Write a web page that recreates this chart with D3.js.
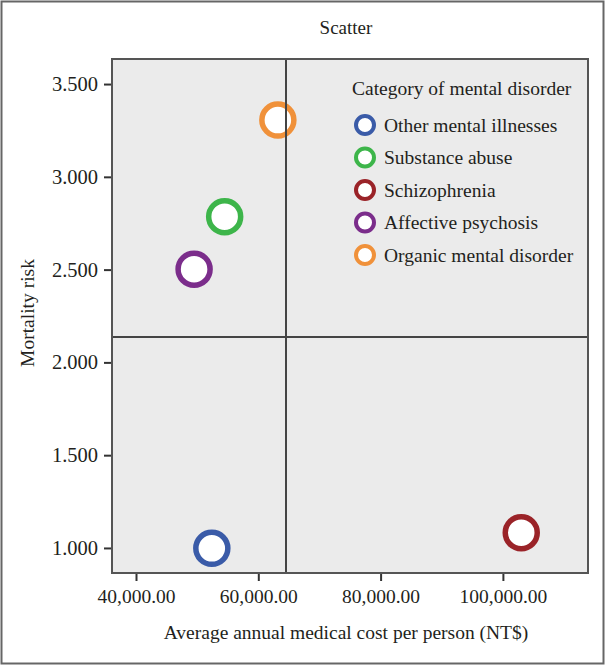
<!DOCTYPE html>
<html>
<head>
<meta charset="utf-8">
<script src="https://cdn.jsdelivr.net/npm/d3@7"></script>
<style>
  html, body { margin: 0; padding: 0; background: #fff; }
  svg { display: block; }
  text { font-family: "Liberation Serif", "DejaVu Serif", serif; fill: #231f20; }
</style>
</head>
<body>
<svg id="chart" width="606" height="666"></svg>
<script>
// ---- data ----
const categories = ["Other mental illnesses", "Substance abuse", "Schizophrenia", "Affective psychosis", "Organic mental disorder"];
const costs = [52400, 54500, 103000, 49500, 63200];
const risks = [0.998, 2.785, 1.082, 2.502, 3.306];
const colors = ["#3a5ba8", "#3db54a", "#9a2328", "#7b2d8b", "#f0913a"];
const xTicks = [40000, 60000, 80000, 100000];
const yTicks = [1.0, 1.5, 2.0, 2.5, 3.0, 3.5];
const xDomain = [36075, 113917];
const yDomain = [0.865, 3.635];
const xRef = 64530;
const yRef = 2.137;
const titleText = "Scatter";
const xLabel = "Average annual medical cost per person (NT$)";
const yLabel = "Mortality risk";
const legendTitle = "Category of mental disorder";

// ---- layout ----
const W = 606, H = 666;
const plot = { left: 112, right: 588, top: 59, bottom: 573 };
const svg = d3.select("#chart");

// outer frame
svg.append("rect").attr("x", 1.5).attr("y", 1.5).attr("width", W - 4).attr("height", H - 4)
  .attr("fill", "#fff").attr("stroke", "#666").attr("stroke-width", 2);

const x = d3.scaleLinear().domain(xDomain).range([plot.left, plot.right]);
const y = d3.scaleLinear().domain(yDomain).range([plot.bottom, plot.top]);

// plot background
svg.append("rect").attr("x", plot.left).attr("y", plot.top)
  .attr("width", plot.right - plot.left).attr("height", plot.bottom - plot.top)
  .attr("fill", "#ebebeb");

// axes
const xAxis = d3.axisBottom(x).tickValues(xTicks).tickFormat(d3.format(",.2f")).tickSize(8).tickPadding(8);
const yAxis = d3.axisLeft(y).tickValues(yTicks).tickFormat(d3.format(".3f")).tickSize(8).tickPadding(6);

const gx = svg.append("g").attr("transform", `translate(0,${plot.bottom})`).call(xAxis);
const gy = svg.append("g").attr("transform", `translate(${plot.left},0)`).call(yAxis);
[gx, gy].forEach(g => {
  g.select(".domain").remove();
  g.selectAll(".tick line").attr("stroke", "#333").attr("stroke-width", 2);
  g.selectAll(".tick text").style("font-family", "Liberation Serif, serif").attr("fill", "#231f20");
});
gx.selectAll(".tick text").style("font-size", "19.5px");
gy.selectAll(".tick text").style("font-size", "20.5px");

// points
const pts = categories.map((c, i) => ({ c, x: costs[i], y: risks[i], col: colors[i] }));
svg.append("g").selectAll("circle").data(pts).join("circle")
  .attr("cx", d => x(d.x)).attr("cy", d => y(d.y)).attr("r", 16)
  .attr("fill", "#fff").attr("stroke", d => d.col).attr("stroke-width", 5.5);

// reference lines
svg.append("line").attr("x1", x(xRef)).attr("x2", x(xRef)).attr("y1", plot.top).attr("y2", plot.bottom)
  .attr("stroke", "#444").attr("stroke-width", 2);
svg.append("line").attr("x1", plot.left).attr("x2", plot.right).attr("y1", y(yRef)).attr("y2", y(yRef))
  .attr("stroke", "#444").attr("stroke-width", 2);

// plot border
svg.append("rect").attr("x", plot.left).attr("y", plot.top)
  .attr("width", plot.right - plot.left).attr("height", plot.bottom - plot.top)
  .attr("fill", "none").attr("stroke", "#555").attr("stroke-width", 2);

// title
svg.append("text").attr("x", 346).attr("y", 34).attr("text-anchor", "middle")
  .style("font-size", "19px").text(titleText);

// axis labels
svg.append("text").attr("x", 346).attr("y", 639).attr("text-anchor", "middle")
  .style("font-size", "19.5px").text(xLabel);
svg.append("text").attr("transform", `translate(34,${(plot.top + plot.bottom) / 2 - 3}) rotate(-90)`)
  .attr("text-anchor", "middle").style("font-size", "19.5px").text(yLabel);

// legend
const lg = svg.append("g");
lg.append("text").attr("x", 352).attr("y", 95).style("font-size", "19.5px").text(legendTitle);
const items = lg.selectAll("g.item").data(pts).join("g").attr("class", "item")
  .attr("transform", (d, i) => `translate(365,${125 + i * 32.5})`);
items.append("circle").attr("r", 9).attr("fill", "#fff")
  .attr("stroke", d => d.col).attr("stroke-width", 4);
items.append("text").attr("x", 19).attr("y", 6.5).style("font-size", "19.5px").text(d => d.c);
</script>
</body>
</html>
